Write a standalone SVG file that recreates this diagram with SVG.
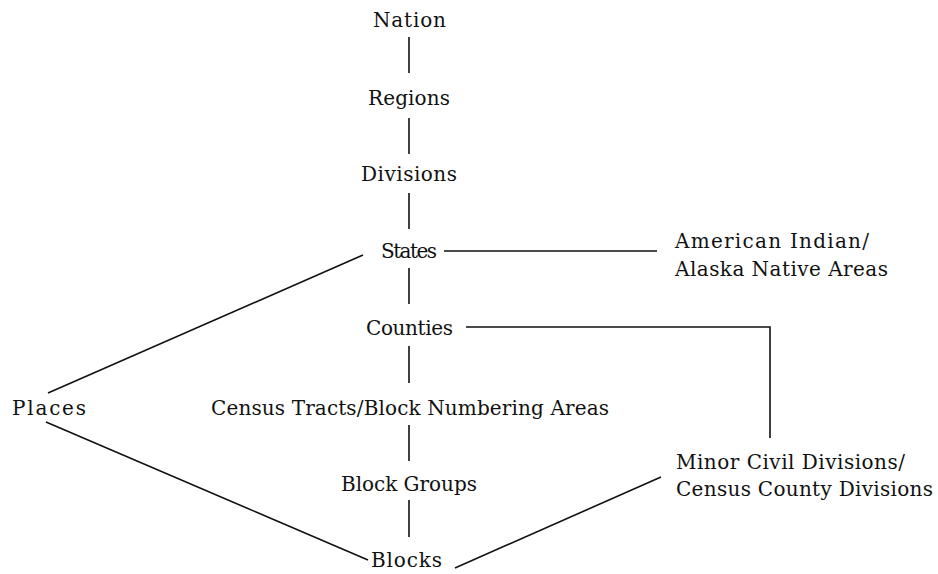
<svg xmlns="http://www.w3.org/2000/svg" width="938" height="574" viewBox="0 0 938 574">
<style>
text{font-family:"DejaVu Serif","Liberation Serif",serif;font-size:20px;fill:#111}
line,polyline{stroke:#111;stroke-width:1.6;fill:none}
</style>
<rect width="938" height="574" fill="#fff"/>
<g id="connectors">
<line x1="409" y1="37" x2="409" y2="73"/>
<line x1="409" y1="118" x2="409" y2="154"/>
<line x1="409" y1="193" x2="409" y2="229"/>
<line x1="444" y1="251" x2="657" y2="251"/>
<line x1="409" y1="268" x2="409" y2="304"/>
<polyline points="466,327 770,327 770,438"/>
<line x1="409" y1="346" x2="409" y2="383"/>
<line x1="409" y1="425" x2="409" y2="461"/>
<line x1="409" y1="500" x2="409" y2="537"/>
<line x1="48" y1="393" x2="363" y2="255"/>
<line x1="46" y1="422" x2="368" y2="560"/>
<line x1="455" y1="568" x2="661" y2="477"/>
</g>
<g id="nation"><text x="373" y="27" textLength="73">Nation</text></g>
<g id="regions"><text x="368" y="105" textLength="82">Regions</text></g>
<g id="divisions"><text x="361" y="181" textLength="96">Divisions</text></g>
<g id="states"><text x="381" y="258" textLength="56">States</text></g>
<g id="aian"><text x="675" y="248" textLength="194">American Indian/</text><text x="675" y="276" textLength="213">Alaska Native Areas</text></g>
<g id="counties"><text x="366" y="335" textLength="87">Counties</text></g>
<g id="places"><text x="12" y="415" textLength="74">Places</text></g>
<g id="tracts"><text x="211" y="415" textLength="398">Census Tracts/Block Numbering Areas</text></g>
<g id="blockgroups"><text x="341" y="491" textLength="136">Block Groups</text></g>
<g id="blocks"><text x="371" y="567" textLength="71">Blocks</text></g>
<g id="mcd"><text x="676" y="469" textLength="229">Minor Civil Divisions/</text><text x="676" y="496" textLength="257">Census County Divisions</text></g>
</svg>
